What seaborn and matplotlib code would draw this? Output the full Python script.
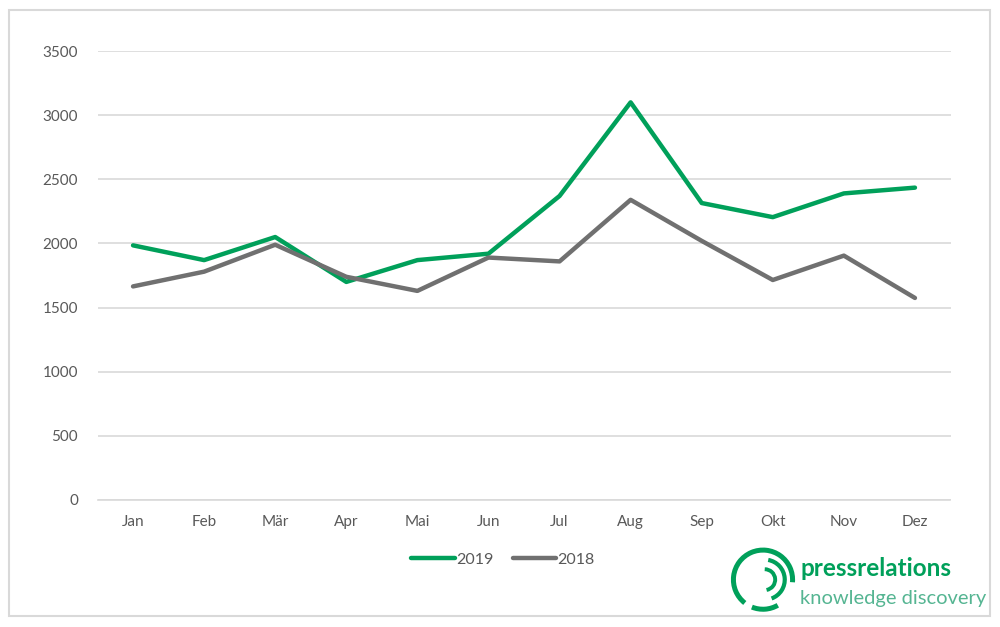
import matplotlib
matplotlib.use("Agg")
import matplotlib.pyplot as plt
import seaborn as sns
import pandas as pd
import numpy as np
from matplotlib.patches import Arc, Rectangle
from matplotlib.lines import Line2D

months = ["Jan", "Feb", "Mär", "Apr", "Mai", "Jun", "Jul", "Aug", "Sep", "Okt", "Nov", "Dez"]
values_2019 = [1985, 1870, 2050, 1700, 1870, 1920, 2370, 3100, 2315, 2205, 2390, 2435]
values_2018 = [1665, 1780, 1990, 1740, 1630, 1890, 1860, 2340, 2020, 1715, 1905, 1575]
series_names = ["2019", "2018"]
y_ticks = [0, 500, 1000, 1500, 2000, 2500, 3000, 3500]

green = "#00A05A"
gray = "#707070"

df = pd.DataFrame({
    "Monat": months * 2,
    "Wert": values_2019 + values_2018,
    "Jahr": [series_names[0]] * 12 + [series_names[1]] * 12,
})
df["pos"] = list(range(12)) * 2

sns.set_theme(style="white")
plt.rcParams['font.family'] = ['Lato', 'DejaVu Sans']

fig = plt.figure(figsize=(10, 6.27), dpi=100)
ax = fig.add_axes([0.0975, 0.2026, 0.853, 0.716])

sns.lineplot(data=df, x="pos", y="Wert", hue="Jahr", palette={"2019": green, "2018": gray},
             hue_order=series_names, linewidth=3.2, ax=ax, legend=False, sort=False)

ax.set_xlim(-0.5, 11.5)
ax.set_ylim(0, 3500)
ax.set_yticks(y_ticks)
ax.set_yticklabels([str(v) for v in y_ticks], color="#595959", fontsize=11)
ax.set_xticks(range(12))
ax.set_xticklabels(months, color="#595959", fontsize=11)
ax.tick_params(axis="x", length=0, pad=10.5)
ax.tick_params(axis="y", length=0, pad=14)
ax.grid(axis="y", color="#d9d9d9", linewidth=1.2)
ax.set_axisbelow(True)
for s in ["left", "right", "top"]:
    ax.spines[s].set_visible(False)
ax.spines["bottom"].set_color("#d9d9d9")
ax.spines["bottom"].set_linewidth(1.2)
ax.set_xlabel("")
ax.set_ylabel("")

# legend
handles = [Line2D([0], [0], color=green, lw=3.2, solid_capstyle="round"),
           Line2D([0], [0], color=gray, lw=3.2, solid_capstyle="round")]
fig.legend(handles, series_names, loc="center", bbox_to_anchor=(0.503, 0.107), ncol=2,
           frameon=False, fontsize=11.5, handlelength=2.7, handletextpad=0.1, columnspacing=1.2,
           labelcolor="#595959")

# border
fig.patches.append(Rectangle((0.009, 0.018), 0.981, 0.966, transform=fig.transFigure,
                             fill=False, edgecolor="#d9d9d9", linewidth=1.5))

# logo
lax = fig.add_axes([0.728, 0.02, 0.07, 0.111])
lax.set_xlim(-1, 1)
lax.set_ylim(-1, 1)
lax.set_aspect("equal")
lax.axis("off")
lax.add_patch(Arc((0, 0), 1.7, 1.7, theta1=-5, theta2=232, color=green, lw=3.6))
lax.add_patch(Arc((0, 0), 1.7, 1.7, theta1=248, theta2=300, color=green, lw=3.6))
lax.add_patch(Arc((0.05, 0.0), 1.15, 1.15, theta1=-70, theta2=80, color=green, lw=3.0))
lax.add_patch(Arc((0.05, 0.0), 0.6, 0.6, theta1=-80, theta2=90, color=green, lw=2.8))

fig.text(0.8, 0.082, "pressrelations", color=green, fontsize=17.5, fontweight="bold",
         family=["Lato", "DejaVu Sans"])
fig.text(0.8, 0.036, "knowledge discovery", color="#55b592", fontsize=14.5,
         family=["Lato", "DejaVu Sans"])

fig.savefig("out.png", dpi=100)
